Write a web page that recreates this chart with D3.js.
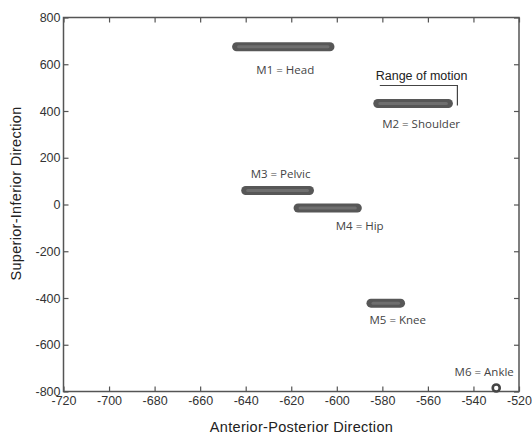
<!DOCTYPE html>
<html>
<head>
<meta charset="utf-8">
<script src="https://cdn.jsdelivr.net/npm/d3@7"></script>
<style>
  body { margin: 0; background: #fff; }
  svg { display: block; }
  .tick text { font-family: "Liberation Sans", Arial, sans-serif; font-size: 12.5px; fill: #333; }
  .tick line { stroke: #555; stroke-width: 1.2; }
  .domain { display: none; }
</style>
</head>
<body>
<svg id="chart" width="532" height="433"></svg>
<script>
// marker names and their range of motion (anterior-posterior start/end, superior-inferior level)
const markers = ["M1 = Head", "M2 = Shoulder", "M3 = Pelvic", "M4 = Hip", "M5 = Knee", "M6 = Ankle"];
const xStart = [-644, -582, -640, -617, -585, -530];
const xEnd = [-603, -551, -612, -591, -572, -530];
const yLevel = [675, 432, 60, -15, -422, -785];
// label offsets (px) from the middle of each range
const labelDx = [2, 8, 3, 32, 12, -12];
const labelDy = [23, 20, -17, 18, 17, -16];

const xTicks = d3.range(-720, -519, 20);
const yTicks = d3.range(-800, 801, 200);

const margin = { left: 63.5, top: 17.5, right: 13, bottom: 41.5 };
const width = 532, height = 433;
const svg = d3.select("#chart");

const x = d3.scaleLinear().domain([-720, -520]).range([margin.left, width - margin.right]);
const y = d3.scaleLinear().domain([-800, 800]).range([height - margin.bottom, margin.top]);
const fmt = (d) => String(d); // plain hyphen minus, like the original

// axes, ticks pointing inward on all four sides
svg.append("g")
  .attr("transform", `translate(0,${y(-800)})`)
  .call(d3.axisBottom(x).tickValues(xTicks).tickSize(-5).tickPadding(5).tickFormat(fmt));
svg.append("g")
  .attr("transform", `translate(0,${y(800)})`)
  .call(d3.axisTop(x).tickValues(xTicks).tickSize(-5).tickFormat(""));
svg.append("g")
  .attr("transform", `translate(${x(-720)},0)`)
  .call(d3.axisLeft(y).tickValues(yTicks).tickSize(-5).tickPadding(3).tickFormat(fmt));
svg.append("g")
  .attr("transform", `translate(${x(-520)},0)`)
  .call(d3.axisRight(y).tickValues(yTicks).tickSize(-5).tickFormat(""));

svg.append("rect")
  .attr("x", x(-720)).attr("y", y(800))
  .attr("width", x(-520) - x(-720)).attr("height", y(-800) - y(800))
  .attr("fill", "none").attr("stroke", "#555").attr("stroke-width", 1.5);

const idx = d3.range(markers.length);
const bars = idx.filter((i) => xStart[i] !== xEnd[i]);
const points = idx.filter((i) => xStart[i] === xEnd[i]);

svg.append("g").selectAll("line.outer").data(bars).join("line")
  .attr("x1", (i) => x(xStart[i])).attr("x2", (i) => x(xEnd[i]))
  .attr("y1", (i) => y(yLevel[i])).attr("y2", (i) => y(yLevel[i]))
  .attr("stroke", "#575757").attr("stroke-width", 9).attr("stroke-linecap", "round");
svg.append("g").selectAll("line.inner").data(bars).join("line")
  .attr("x1", (i) => x(xStart[i]) + 2).attr("x2", (i) => x(xEnd[i]) - 2)
  .attr("y1", (i) => y(yLevel[i])).attr("y2", (i) => y(yLevel[i]))
  .attr("stroke", "#6f6f6f").attr("stroke-width", 3).attr("stroke-linecap", "round");

svg.append("g").selectAll("circle").data(points).join("circle")
  .attr("cx", (i) => x(xStart[i])).attr("cy", (i) => y(yLevel[i]))
  .attr("r", 3.5).attr("fill", "#fff").attr("stroke", "#444").attr("stroke-width", 2.6);

svg.append("g").selectAll("text").data(idx).join("text")
  .attr("x", (i) => (x(xStart[i]) + x(xEnd[i])) / 2 + labelDx[i])
  .attr("y", (i) => y(yLevel[i]) + labelDy[i])
  .attr("dy", "0.35em")
  .attr("text-anchor", "middle")
  .attr("font-family", "'Open Sans', sans-serif")
  .attr("font-size", 11.5)
  .attr("fill", "#444")
  .text((i) => markers[i]);

// "Range of motion" callout next to M2
const m2 = 1;
const calloutX = x(xEnd[m2]) + 9;
const calloutY = y(yLevel[m2]) - 18;
svg.append("path")
  .attr("d", `M${x(xStart[m2]) + 2},${calloutY}H${calloutX}V${y(yLevel[m2]) + 2}`)
  .attr("fill", "none").attr("stroke", "#444").attr("stroke-width", 1.2);
svg.append("text")
  .attr("x", (x(xStart[m2]) + calloutX) / 2 + 4)
  .attr("y", calloutY - 6)
  .attr("text-anchor", "middle")
  .attr("font-family", "'Liberation Sans', Arial, sans-serif")
  .attr("font-size", 12.5)
  .attr("fill", "#222")
  .text("Range of motion");

svg.append("text")
  .attr("x", 301.5).attr("y", 431.5)
  .attr("text-anchor", "middle")
  .attr("font-family", "'Liberation Sans', Arial, sans-serif")
  .attr("font-size", 14.5).attr("letter-spacing", 0.3).attr("fill", "#222")
  .text("Anterior-Posterior Direction");
svg.append("text")
  .attr("transform", "translate(21,193.5) rotate(-90)")
  .attr("text-anchor", "middle")
  .attr("font-family", "'Liberation Sans', Arial, sans-serif")
  .attr("font-size", 14.5).attr("letter-spacing", 0.3).attr("fill", "#222")
  .text("Superior-Inferior Direction");
</script>
</body>
</html>
